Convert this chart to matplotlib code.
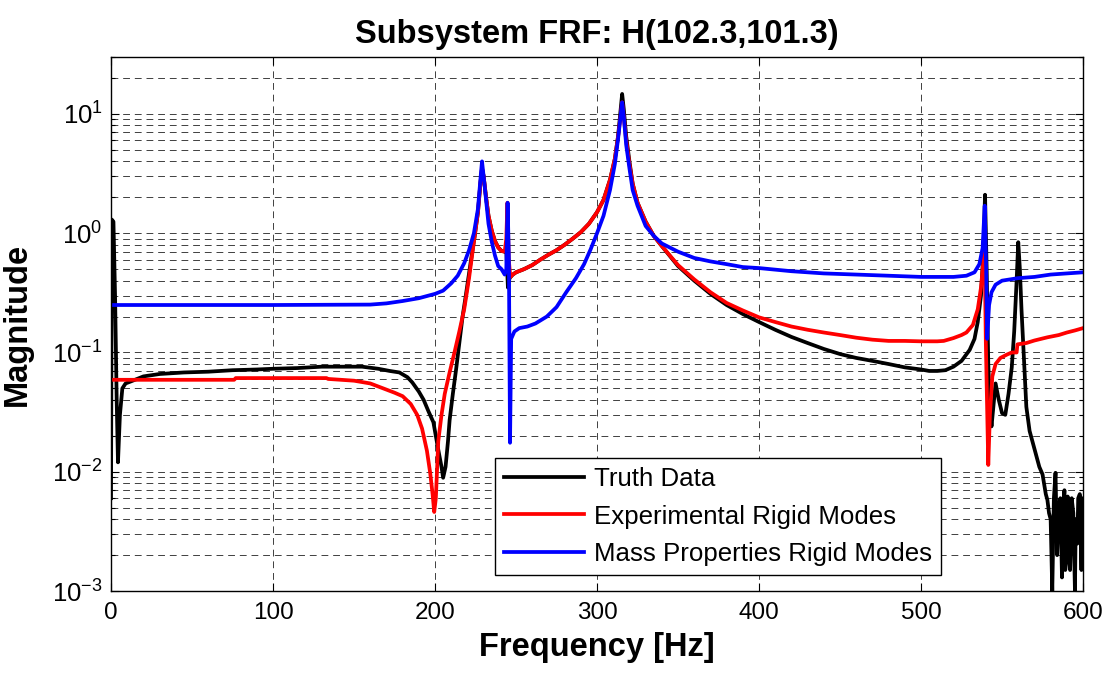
import matplotlib
matplotlib.use("Agg")
import matplotlib.pyplot as plt
from matplotlib.ticker import LogLocator, NullFormatter

# =========================
# DATA
# =========================
f_truth = [0, 0.5, 1.5, 2.5, 3.5, 4.3, 5.5, 7, 9, 12,
           20, 30, 45, 60, 75, 90, 100, 115, 130, 145, 155, 165, 172,
           178, 183, 186, 190, 193, 196, 199, 202, 204, 205, 206.5, 208, 209, 211,
           213, 215, 217, 219, 222, 224.5, 226.5,
           228, 229, 230, 231.5, 233, 235, 237, 239, 241, 243, 244, 245, 246, 248,
           250, 255, 260, 265, 270, 275, 280, 285, 290, 295, 300, 304, 308, 311,
           313, 314.5, 315.5, 316.5, 318, 320, 322, 325, 330, 335, 340,
           350, 360, 370, 380, 390, 400, 410, 420, 430, 440, 450, 460, 470, 480,
           490, 500, 505, 510, 515, 520, 525, 530, 533, 535, 537,
           538.5, 539.5, 540.5, 541.5, 542.5, 543.5, 545, 546, 548, 550, 552, 554,
           556, 557.5, 559, 560, 561, 562, 563.5, 565, 567, 569, 571, 573, 575, 577,
           578, 579, 580, 581, 582, 583, 584, 585, 586, 587, 587.5, 588.5, 589, 590,
           590.5, 591, 592, 593, 594, 595, 595.5, 596.5, 597, 598, 599, 599.5, 600]
m_truth = [0.006, 1.3, 1.25, 0.3, 0.04, 0.012, 0.03, 0.05, 0.055, 0.057,
           0.063, 0.066, 0.068, 0.069, 0.071, 0.072, 0.073, 0.074, 0.076, 0.076, 0.076, 0.073, 0.07,
           0.068, 0.062, 0.056, 0.047, 0.04, 0.032, 0.026, 0.0153, 0.011, 0.0089, 0.011, 0.018, 0.027, 0.045,
           0.072, 0.12, 0.2, 0.3, 0.57, 0.95, 1.5,
           2.6, 3.5, 3.0, 2.0, 1.4, 1.05, 0.86, 0.76, 0.71, 0.7, 0.72, 0.35, 0.42, 0.45,
           0.47, 0.5, 0.54, 0.6, 0.66, 0.72, 0.8, 0.9, 1.02, 1.2, 1.5, 1.9, 2.8, 4.2,
           6.5, 10.5, 14.7, 11.0, 6.5, 4.0, 2.6, 1.8, 1.25, 0.95, 0.78,
           0.53, 0.4, 0.31, 0.25, 0.21, 0.18, 0.155, 0.135, 0.12, 0.107, 0.097, 0.09, 0.085, 0.08,
           0.075, 0.072, 0.07, 0.07, 0.071, 0.076, 0.085, 0.105, 0.13, 0.18, 0.3,
           0.7, 2.1, 0.5, 0.08, 0.035, 0.024, 0.04, 0.055, 0.04, 0.031, 0.03, 0.045,
           0.075, 0.15, 0.4, 0.84, 0.5, 0.23, 0.09, 0.035, 0.022, 0.0175, 0.014, 0.011, 0.0095, 0.0065,
           0.0058, 0.0045, 0.004, 0.001, 0.006, 0.0098, 0.002, 0.005, 0.006, 0.0013, 0.004, 0.007, 0.0015, 0.002,
           0.0062, 0.0025, 0.0015, 0.006, 0.0045, 0.001, 0.004, 0.0025, 0.006, 0.0065, 0.0015, 0.006, 0.003]

f_exp = [0, 40, 76, 77, 100, 133, 134, 150, 160, 168,
         175, 180, 185, 189, 192, 195, 197, 198.5, 199.5, 200.5,
         202, 204, 206, 209, 212, 215, 218, 221, 224, 226.5,
         228, 229, 230, 231.5, 233, 235, 237, 239, 241, 243,
         244, 244.7, 245.5, 246.5, 248, 250, 255, 260, 265, 270,
         275, 280, 285, 290, 295, 300, 304, 308, 311, 313,
         314.5, 315.5, 316.5, 318, 320, 322, 325, 330, 335, 340,
         350, 360, 370, 380, 390, 400, 410, 420, 430, 440,
         450, 460, 470, 480, 490, 500, 510, 514, 520, 525,
         528, 532, 535, 537, 538.3, 539.2, 540, 541.5, 542.5, 544,
         546, 549, 553, 556, 559, 559.5, 565, 570, 578, 585,
         590, 595, 600]
m_exp = [0.059, 0.059, 0.059, 0.061, 0.061, 0.061, 0.06, 0.058, 0.055, 0.05,
         0.046, 0.043, 0.037, 0.03, 0.023, 0.015, 0.0098, 0.0065, 0.0046, 0.006,
         0.018, 0.03, 0.045, 0.068, 0.1, 0.15, 0.23, 0.42, 0.85, 1.5,
         2.6, 3.5, 3.0, 2.0, 1.4, 1.05, 0.86, 0.76, 0.71, 0.7,
         0.9, 1.8, 0.6, 0.43, 0.45, 0.47, 0.5, 0.54, 0.6, 0.66,
         0.72, 0.8, 0.9, 1.02, 1.2, 1.5, 1.9, 2.8, 4.2, 6.5,
         9.5, 12.5, 9.5, 6.0, 3.8, 2.6, 1.8, 1.25, 0.95, 0.78,
         0.54, 0.41, 0.32, 0.26, 0.225, 0.197, 0.18, 0.165, 0.155, 0.147,
         0.14, 0.133, 0.128, 0.125, 0.125, 0.124, 0.124, 0.125, 0.132, 0.14,
         0.147, 0.17, 0.23, 0.35, 0.55, 0.8, 0.12, 0.0114, 0.03, 0.063,
         0.08, 0.09, 0.096, 0.1, 0.1, 0.117, 0.12, 0.126, 0.134, 0.14,
         0.147, 0.153, 0.16]

f_mass = [0, 100, 160, 170, 180, 190, 200, 205, 210, 214,
          218, 221, 224, 226.5, 228, 229, 230, 231.5, 233, 235,
          237, 239, 241, 243, 244, 244.8, 245.6, 246.3, 247, 249,
          252, 257, 262, 269, 275, 281, 287, 292, 296, 300,
          304, 308, 311, 313, 314.5, 315.5, 316.5, 318, 320, 322,
          325, 330, 335, 340, 350, 360, 370, 380, 390, 400,
          420, 440, 460, 480, 500, 520, 528, 533, 536, 538,
          539.3, 540.2, 540.8, 542, 543.5, 546, 550, 555, 560, 570,
          580, 590, 600]
m_mass = [0.25, 0.25, 0.252, 0.258, 0.27, 0.285, 0.31, 0.33, 0.38, 0.44,
          0.56, 0.72, 1.0, 1.6, 2.8, 4.0, 3.0, 1.9, 1.2, 0.85,
          0.65, 0.53, 0.5, 0.45, 0.5, 1.8, 0.6, 0.0175, 0.13, 0.15,
          0.16, 0.165, 0.175, 0.2, 0.24, 0.32, 0.42, 0.55, 0.73, 1.0,
          1.4, 2.3, 3.8, 6.2, 9.5, 12.5, 9.5, 5.5, 3.5, 2.3,
          1.7, 1.15, 0.95, 0.82, 0.7, 0.62, 0.58, 0.55, 0.52, 0.51,
          0.48, 0.46, 0.45, 0.44, 0.43, 0.43, 0.44, 0.47, 0.55, 0.75,
          1.7, 0.5, 0.13, 0.25, 0.32, 0.37, 0.4, 0.41, 0.42, 0.43,
          0.45, 0.46, 0.47]

labels = ["Truth Data", "Experimental Rigid Modes", "Mass Properties Rigid Modes"]
colors = ["black", "red", "blue"]

# =========================
# STYLE
# =========================
plt.rcParams["font.family"] = "Liberation Sans"
plt.rcParams["mathtext.fontset"] = "custom"
plt.rcParams["mathtext.rm"] = "Liberation Sans"
plt.rcParams["mathtext.default"] = "regular"

fig = plt.figure(figsize=(11.09, 6.73), dpi=100)
ax = fig.add_axes([0.1001, 0.1218, 0.8765, 0.7935])

# =========================
# PLOT
# =========================
lw = 2.7
ax.plot(f_truth, m_truth, color=colors[0], lw=lw, label=labels[0])
ax.plot(f_exp, m_exp, color=colors[1], lw=lw, label=labels[1])
ax.plot(f_mass, m_mass, color=colors[2], lw=lw, label=labels[2])

ax.set_yscale("log")
ax.set_xlim(0, 600)
ax.set_ylim(1e-3, 30)
ax.set_xticks([0, 100, 200, 300, 400, 500, 600])
ax.yaxis.set_major_locator(LogLocator(base=10, numticks=10))
ax.yaxis.set_minor_locator(LogLocator(base=10, subs=range(2, 10), numticks=20))
ax.yaxis.set_minor_formatter(NullFormatter())

grid_kw = dict(color="0.25", linestyle=(0, (7, 5)), linewidth=0.7)
ax.grid(True, which="major", axis="x", **grid_kw)
ax.grid(True, which="both", axis="y", **grid_kw)

ax.tick_params(which="both", direction="in", top=True, right=True)
ax.tick_params(axis="x", labelsize=17.5, pad=8)
ax.tick_params(axis="y", labelsize=18.5, pad=6)
ax.tick_params(which="major", length=6, width=0.8)
ax.tick_params(which="minor", length=3, width=0.8)
for s in ax.spines.values():
    s.set_linewidth(1.0)

ax.set_title("Subsystem FRF: H(102.3,101.3)", fontsize=23.5, fontweight="bold", pad=10)
ax.set_xlabel("Frequency [Hz]", fontsize=23.5, fontweight="bold", labelpad=6)
ax.set_ylabel("Magnitude", fontsize=23.5, fontweight="bold")
ax.yaxis.set_label_coords(-0.080, 0.5)

leg = ax.legend(loc="lower left", bbox_to_anchor=(0.395, 0.03), borderaxespad=0,
                fontsize=18.6, fancybox=False, framealpha=1, edgecolor="black",
                handlelength=3.1, borderpad=0.35, labelspacing=0.52, handletextpad=0.4)
leg.get_frame().set_linewidth(1.0)

fig.savefig("out.png", dpi=100)
